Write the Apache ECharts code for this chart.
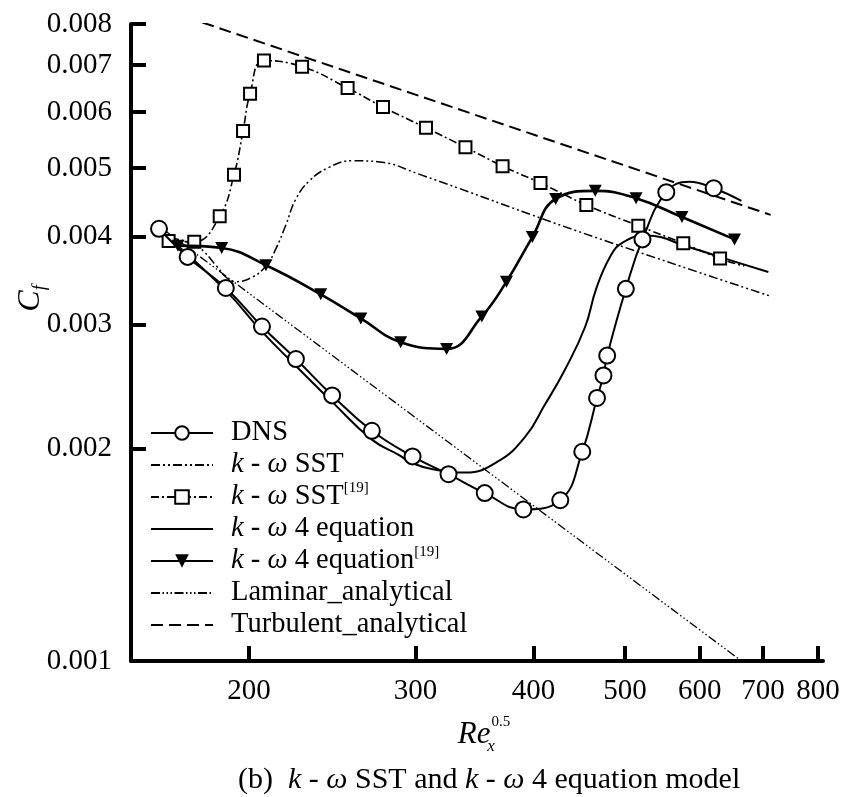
<!DOCTYPE html>
<html><head><meta charset="utf-8">
<script src="https://cdn.jsdelivr.net/npm/echarts@6/dist/echarts.min.js"></script>
<style>html,body{margin:0;padding:0;background:#fff}#c{width:845px;height:797px}</style>
</head><body><div id="c"></div>
<script>
// ---- tick labels ----
const xTicks = [200, 300, 400, 500, 600, 700, 800];
const yTicks = [0.001, 0.002, 0.003, 0.004, 0.005, 0.006, 0.007, 0.008];

// ---- DNS (circles); indices in dnsNoMarker are curve points without a circle ----
const dnsX = [160.6, 172.2, 189.0, 206.4, 224.2, 244.9, 269.8, 297.9, 325.2, 355.2, 390.3, 427.0, 450.5, 467.0, 474.4, 478.7, 501.0, 521.7, 552.9, 584.5, 620.6, 664];
const dnsY = [0.00410, 0.00374, 0.00338, 0.00298, 0.00268, 0.00238, 0.00212, 0.00195, 0.00184, 0.00173, 0.00164, 0.00169, 0.00198, 0.00236, 0.00254, 0.00271, 0.00337, 0.00396, 0.00462, 0.00478, 0.00468, 0.00449];
const dnsNoMarker = [19, 21];

// ---- k-ω SST ----
const sstX = [165, 176.2, 184.8, 189.1, 193.8, 201.5, 208.4, 213.5, 218.6, 224.2, 231.5, 243.0, 257.3, 274.7, 302.6, 447.3, 713];
const sstY = [0.00398, 0.00387, 0.00363, 0.00350, 0.00345, 0.00350, 0.00363, 0.00384, 0.00414, 0.00452, 0.00479, 0.00501, 0.00512, 0.00510, 0.00490, 0.00406, 0.00329];

// ---- k-ω SST [19] (squares); last point is the curve tail ----
const sst19X = [164.4, 175.0, 186.2, 192.8, 197.1, 200.5, 207.4, 227.6, 254.3, 277.2, 307.8, 338.9, 371.0, 406.9, 455.0, 516.4, 576.2, 630.3, 668.6];
const sst19Y = [0.00394, 0.00393, 0.00427, 0.00489, 0.00564, 0.00637, 0.00710, 0.00696, 0.00649, 0.00610, 0.00570, 0.00535, 0.00503, 0.00476, 0.00443, 0.00414, 0.00391, 0.00372, 0.00363];
const sst19NoMarker = [18];

// ---- k-ω 4 equation ----
const eq4X = [162, 189.0, 206.4, 224.2, 244.9, 269.8, 288.0, 297.0, 313.0, 339.0, 367.2, 392.1, 410.6, 432.0, 453.8, 466.0, 482.0, 497.0, 527.0, 584.5, 642.0, 709];
const eq4Y = [0.00405, 0.00335, 0.00293, 0.00262, 0.00233, 0.00206, 0.00196, 0.00191, 0.00187, 0.00185, 0.00192, 0.00208, 0.00230, 0.00259, 0.00298, 0.00337, 0.00374, 0.00392, 0.00401, 0.00386, 0.00371, 0.00356];

// ---- k-ω 4 equation [19] (triangles) ----
const eq419X = [168.2, 187.1, 208.4, 238.2, 262.6, 289.4, 323.7, 352.7, 374.5, 398.9, 422.2, 465.0, 513.6, 574.4, 652.9];
const eq419Y = [0.00388, 0.00385, 0.00364, 0.00331, 0.00306, 0.00283, 0.00277, 0.00308, 0.00345, 0.00399, 0.00452, 0.00464, 0.00453, 0.00426, 0.00396];

// ---- analytical lines ----
const lamX = [162, 664];
const lamY = [0.00410, 0.00100];
const turbX = [178.5, 713];
const turbY = [0.00804, 0.00429];

const FF = '"Liberation Serif", "Times New Roman", serif';
const L = Math.log10;
function pts(xs, ys, noMark) {
  return xs.map((x, i) => {
    const v = [L(x), L(ys[i])];
    return (noMark && noMark.indexOf(i) >= 0) ? { value: v, symbol: 'none' } : v;
  });
}

const chart = echarts.init(document.getElementById('c'), null, { renderer: 'canvas' });

const names = {
  dns: 'DNS',
  sst: 'k-ω SST',
  sst19: 'k-ω SST [19]',
  eq4: 'k-ω 4 equation',
  eq419: 'k-ω 4 equation [19]',
  lam: 'Laminar_analytical',
  turb: 'Turbulent_analytical'
};
const legendText = {};
legendText[names.dns] = 'DNS';
legendText[names.sst] = '{it|k} - {it|ω} SST';
legendText[names.sst19] = '{it|k} - {it|ω} SST{sup|[19]}';
legendText[names.eq4] = '{it|k} - {it|ω} 4 equation';
legendText[names.eq419] = '{it|k} - {it|ω} 4 equation{sup|[19]}';
legendText[names.lam] = 'Laminar_analytical';
legendText[names.turb] = 'Turbulent_analytical';

const black = '#000';
const SM = 0.45;
const option = {
  animation: false,
  backgroundColor: '#fff',
  title: {
    text: '(b)  {it|k} - {it|ω} SST and {it|k} - {it|ω} 4 equation model',
    left: 233, top: 758,
    textStyle: {
      fontFamily: FF, fontSize: 30, fontWeight: 'normal', color: black, lineHeight: 34,
      rich: { it: { fontFamily: FF, fontSize: 30, fontStyle: 'italic', color: black, lineHeight: 34 } }
    }
  },
  grid: { left: 131, right: 22, top: 24, bottom: 136, containLabel: false, outerBoundsMode: 'none' },
  xAxis: {
    type: 'value',
    min: L(150), max: L(810),
    name: '{it|Re}{sub|x}{sup|0.5}',
    nameLocation: 'middle', nameGap: 54, nameMoveOverlap: false,
    nameTextStyle: {
      fontFamily: FF, color: black, fontSize: 30, padding: [0, 0, 0, 14],
      rich: {
        it: { fontFamily: FF, fontStyle: 'italic', fontSize: 31, color: black, lineHeight: 40 },
        sub: { fontFamily: FF, fontStyle: 'italic', fontSize: 17, color: black, verticalAlign: 'bottom', lineHeight: 18, width: 1 },
        sup: { fontFamily: FF, fontSize: 15, color: black, verticalAlign: 'top', lineHeight: 18 }
      }
    },
    axisLine: { show: true, onZero: false, lineStyle: { color: black, width: 4 } },
    axisTick: { show: true, inside: true, length: 15, customValues: xTicks.map(L), lineStyle: { color: black, width: 4 } },
    minorTick: { show: false },
    splitLine: { show: false },
    axisLabel: {
      customValues: xTicks.map(L), margin: 16,
      fontFamily: FF, fontSize: 29, color: black,
      formatter: v => String(Math.round(Math.pow(10, v)))
    }
  },
  yAxis: {
    type: 'value',
    min: -3, max: L(0.008),
    name: '{it|C}{sub|f}',
    nameLocation: 'middle', nameRotate: 90, nameGap: 82, nameMoveOverlap: false,
    nameTextStyle: {
      fontFamily: FF, color: black, fontSize: 32, padding: [0, 0, 0, 88],
      rich: {
        it: { fontFamily: FF, fontStyle: 'italic', fontSize: 32, color: black, lineHeight: 36 },
        sub: { fontFamily: FF, fontStyle: 'italic', fontSize: 18, color: black, verticalAlign: 'bottom', lineHeight: 20 }
      }
    },
    axisLine: { show: true, onZero: false, lineStyle: { color: black, width: 4 } },
    axisTick: { show: true, inside: true, length: 15, customValues: yTicks.map(L), lineStyle: { color: black, width: 4 } },
    minorTick: { show: false },
    splitLine: { show: false },
    axisLabel: {
      customValues: yTicks.map(L), margin: 19,
      fontFamily: FF, fontSize: 29, color: black,
      formatter: v => Math.pow(10, v).toFixed(3)
    }
  },
  legend: {
    orient: 'vertical', left: 150, top: 417, padding: 0,
    itemWidth: 62, itemHeight: 17, itemGap: 0,
    selectedMode: false,
    textStyle: {
      fontFamily: FF, fontSize: 28.5, color: black, lineHeight: 32, padding: [0, 0, 0, 13],
      rich: {
        it: { fontFamily: FF, fontStyle: 'italic', fontSize: 28.5, color: black, lineHeight: 32 },
        sup: { fontFamily: FF, fontSize: 15, color: black, verticalAlign: 'top', lineHeight: 18 }
      }
    },
    formatter: n => legendText[n],
    data: [
      { name: names.dns },
      { name: names.sst, itemStyle: { opacity: 0 } },
      { name: names.sst19 },
      { name: names.eq4, itemStyle: { opacity: 0 } },
      { name: names.eq419 },
      { name: names.lam, itemStyle: { opacity: 0 } },
      { name: names.turb, itemStyle: { opacity: 0 } }
    ]
  },
  series: [
    {
      name: names.turb, type: 'line', data: pts(turbX, turbY), showSymbol: false, symbol: 'none',
      lineStyle: { color: black, width: 2, type: [12, 6] }, itemStyle: { color: black }, z: 2
    },
    {
      name: names.lam, type: 'line', data: pts(lamX, lamY), showSymbol: false, symbol: 'none',
      lineStyle: { color: black, width: 1.3, type: [9, 2.5, 1.5, 2.5, 1.5, 2.5, 1.5, 2.5] }, itemStyle: { color: black }, z: 2
    },
    {
      name: names.sst, type: 'line', data: pts(sstX, sstY), showSymbol: false, symbol: 'none',
      smooth: SM,
      lineStyle: { color: black, width: 1.5, type: [9, 3, 2, 3, 2, 3] }, itemStyle: { color: black }, z: 3
    },
    {
      name: names.eq4, type: 'line', data: pts(eq4X, eq4Y), showSymbol: false, symbol: 'none',
      smooth: SM,
      lineStyle: { color: black, width: 2, type: 'solid' }, itemStyle: { color: black }, z: 3
    },
    {
      name: names.sst19, type: 'line', data: pts(sst19X, sst19Y, sst19NoMarker),
      symbol: 'emptyRect', symbolSize: 12, showAllSymbol: true,
      smooth: SM,
      lineStyle: { color: black, width: 1.6, type: [8, 3, 2, 3] },
      itemStyle: { color: black, borderColor: black, borderWidth: 2 }, z: 4
    },
    {
      name: names.eq419, type: 'line', data: pts(eq419X, eq419Y),
      symbol: 'path://M0,0L10,0L5,8.7Z', symbolSize: [13, 12], showAllSymbol: true,
      smooth: SM,
      lineStyle: { color: black, width: 2.6, type: 'solid' },
      itemStyle: { color: black }, z: 5
    },
    {
      name: names.dns, type: 'line', data: pts(dnsX, dnsY, dnsNoMarker),
      symbol: 'emptyCircle', symbolSize: 16, showAllSymbol: true,
      smooth: SM,
      lineStyle: { color: black, width: 2, type: 'solid' },
      itemStyle: { color: black, borderColor: black, borderWidth: 2 }, z: 6
    }
  ]
};
chart.setOption(option);
</script>
</body></html>
